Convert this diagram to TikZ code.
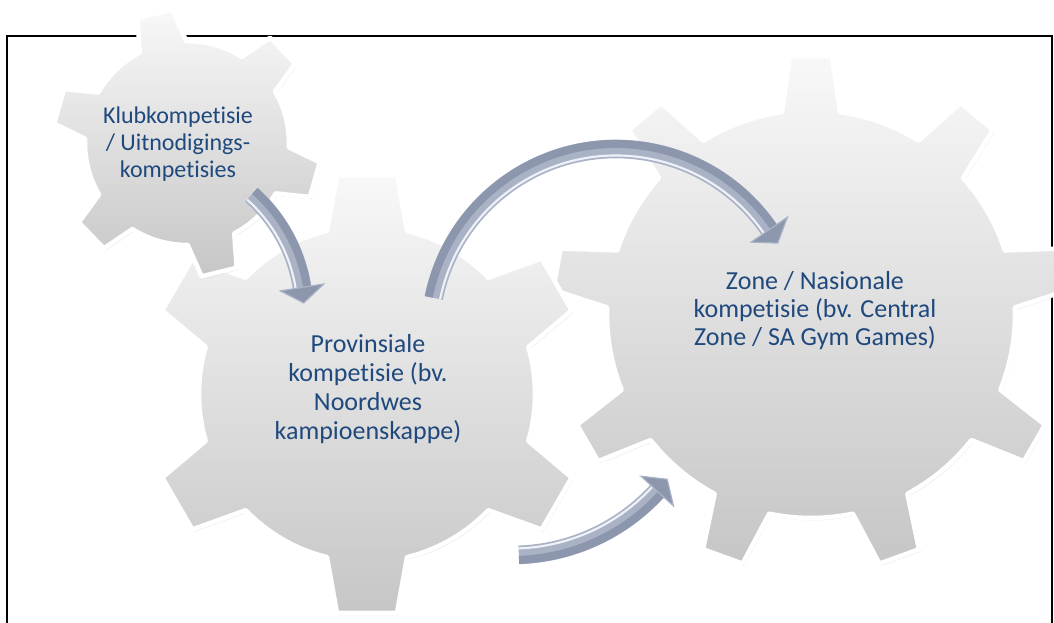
\documentclass[tikz,border=0pt]{standalone}
\usepackage{fontspec}
\setmainfont{Carlito}[Ligatures=NoCommon]
\usetikzlibrary{calc,shadows}
\definecolor{txtblue}{RGB}{31,73,125}
\definecolor{arrdark}{RGB}{140,150,173}
\definecolor{arrmid}{RGB}{170,178,198}
\definecolor{arrhi}{RGB}{238,241,247}
\definecolor{geartop}{RGB}{248,248,248}
\definecolor{gearbot}{RGB}{198,198,198}
\tikzset{
  gearbody/.style={top color=geartop, bottom color=gearbot, draw=white, line width=3.4pt, line join=round,
     drop shadow={shadow xshift=1.2pt, shadow yshift=-1.8pt, opacity=0.14, fill=black!60}},
  gtext/.style={text=txtblue, align=center, inner sep=0pt},
  shaftbase/.style={draw=arrmid, line width=14pt},
  shaftdark/.style={draw=arrdark, line width=6pt},
  shafthi/.style={draw=arrhi, line width=1.6pt},
  headfill/.style={fill=arrdark, draw=arrmid, line width=0.9pt, line join=miter},
  frame/.style={draw=black, line width=1.1pt}
}
\newcommand\gearsetup[6]{%
  \def\gN{#1}\def\gr{#2}\def\gR{#3}\def\gphi{#6}%
  \pgfmathsetmacro\gA{asin(#4/#2)}%
  \pgfmathsetmacro\gB{atan(#5/#3)}%
  \pgfmathsetmacro\gP{10*sqrt((#3/10)*(#3/10)+(#5/10)*(#5/10))}%
  \pgfmathsetmacro\gS{360/#1}%
  \pgfmathtruncatemacro\gM{#1-1}%
}
\newcommand\gearpts{%
  ({\gphi-\gA}:\gr)
  \foreach \k [evaluate=\k as \gth using \gphi+\k*\gS] in {0,...,\gM} {
    -- ({\gth-\gB}:\gP) -- ({\gth+\gB}:\gP) -- ({\gth+\gA}:\gr)
    arc[start angle=\gth+\gA, end angle=\gth+\gS-\gA, radius=\gr]
  } -- cycle}
\newcommand\carrow[5]{%
  \pgfmathsetmacro\rA{#2+5}%
  \pgfmathsetmacro\rB{#2-6.5}%
  \pgfmathsetmacro\rC{#2-22}%
  \pgfmathsetmacro\rD{#2+22}%
  \draw[shaftbase] ($(#1)+(#3:#2)$) arc[start angle=#3, end angle=#4, radius=#2];
  \draw[shaftdark] ($(#1)+(#3:\rA)$) arc[start angle=#3, end angle=#4, radius=\rA];
  \draw[shafthi] ($(#1)+(#3:\rB)$) arc[start angle=#3, end angle=#4, radius=\rB];
  \filldraw[headfill] ($(#1)+(#4:\rC)$) -- ($(#1)+(#5:#2)$) -- ($(#1)+(#4:\rD)$) -- cycle;
}
\begin{document}
\begin{tikzpicture}[x=0.75pt,y=0.75pt]
\useasboundingbox (0,0) rectangle (1054,622);
% frame
\draw[frame] (7,-5) -- (7,586) -- (1052,586) -- (1052,-5);
% gears
\gearsetup{9}{204}{258}{29}{21}{90}
\path[gearbody, shift={(811,308)}] \gearpts;
\gearsetup{6}{168}{219}{40}{30}{90}
\path[gearbody, shift={(367,228)}] \gearpts;
\gearsetup{6}{102}{133}{24}{18}{104}
\path[gearbody, shift={(187,479)}] \gearpts;
% texts
\node[gtext, font=\fontsize{18}{20.25}\selectfont] (t1) at (178,477.5) {Klubkompetisie\\/ Uitnodigings-\\kompetisies};
\node[gtext, font=\fontsize{19.5}{21.9}\selectfont] (t2) at (368,233) {Provinsiale\\kompetisie (bv.\\Noordwes\\kampioenskappe)};
\node[gtext, font=\fontsize{19.5}{21}\selectfont] (t3) at (815,311) {Zone / Nasionale\\kompetisie (bv. Central\\Zone / SA Gym Games)};
% arrows
\coordinate (c1) at (147,310);
\coordinate (c2) at (616,287);
\coordinate (c3) at (512,264);
\carrow{c1}{157}{48.3}{9}{3.3}
\carrow{c2}{186}{168.5}{34.5}{29.6}
\carrow{c3}{197}{-88}{-42.5}{-38}
\end{tikzpicture}
\end{document}
